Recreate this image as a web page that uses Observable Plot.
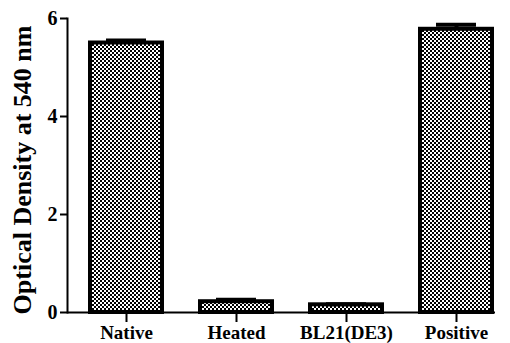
<!DOCTYPE html>
<html>
<head>
<meta charset="utf-8">
<script src="https://cdn.jsdelivr.net/npm/d3@7"></script>
<script src="https://cdn.jsdelivr.net/npm/@observablehq/plot@0.6"></script>
<style>
  html, body { margin: 0; padding: 0; background: white; }
  #chart { width: 510px; height: 343px; }
</style>
</head>
<body>
<div id="chart"></div>
<script>
const categories = ["Native", "Heated", "BL21(DE3)", "Positive"];
const values = [5.50, 0.22, 0.157, 5.78];
const errors = [0.05, 0.04, 0.01, 0.09];
const yTicks = [0, 2, 4, 6];
const yTitle = "Optical Density at 540 nm";

const data = categories.map((c, i) => ({category: c, value: values[i], top: values[i] + errors[i]}));

const svg = Plot.plot({
  width: 510,
  height: 343,
  marginLeft: 67,
  marginRight: 15,
  marginTop: 18,
  marginBottom: 31,
  style: {fontFamily: "'Liberation Serif', 'Times New Roman', serif", fontWeight: "bold", background: "white", color: "black"},
  x: {domain: categories, range: [88, 493], paddingInner: 0.35, paddingOuter: 0, label: null},
  y: {domain: [0, 6], label: null},
  marks: [
    Plot.barY(data, {x: "category", y: "value", fill: "url(#checker)", stroke: "black", strokeWidth: 4}),
    Plot.ruleX(data, {x: "category", y1: "value", y2: "top", stroke: "black", strokeWidth: 4}),
    Plot.tickY(data, {x: "category", y: "top", stroke: "black", strokeWidth: 4, insetLeft: 16, insetRight: 16}),
    Plot.ruleY([0], {stroke: "black", strokeWidth: 2}),
    Plot.frame({anchor: "left", stroke: "black", strokeWidth: 2}),
    Plot.axisY({ticks: yTicks, tickFormat: d => String(d), tickSize: 7, tickPadding: 3, fontSize: 20, strokeWidth: 2, label: null}),
    Plot.axisX({tickSize: 10, tickPadding: 3, fontSize: 19, strokeWidth: 2, label: null})
  ]
});

const s = d3.select(svg);
const pat = s.insert("defs", ":first-child")
  .append("pattern")
  .attr("id", "checker")
  .attr("width", 4).attr("height", 4)
  .attr("patternUnits", "userSpaceOnUse");
pat.append("rect").attr("width", 4).attr("height", 4).attr("fill", "white");
pat.append("rect").attr("x", 0).attr("y", 0).attr("width", 2).attr("height", 2).attr("fill", "black");
pat.append("rect").attr("x", 2).attr("y", 2).attr("width", 2).attr("height", 2).attr("fill", "black");

s.append("text")
  .attr("transform", "translate(31,170) rotate(-90)")
  .attr("text-anchor", "middle")
  .attr("font-size", 26)
  .attr("font-weight", "bold")
  .attr("fill", "black")
  .text(yTitle);

document.getElementById("chart").appendChild(svg);
</script>
</body>
</html>
